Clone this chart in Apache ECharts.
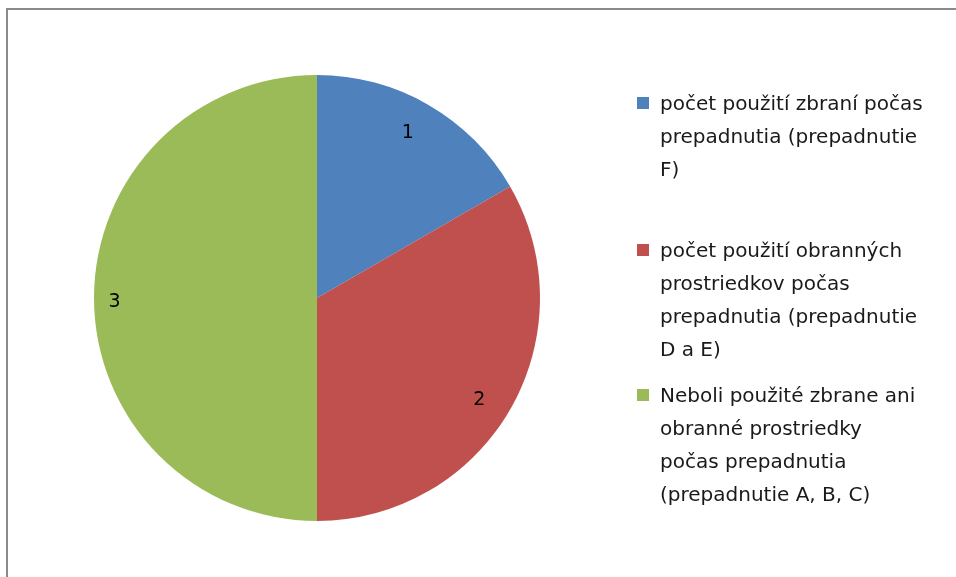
<!DOCTYPE html>
<html>
<head>
<meta charset="utf-8">
<script src="https://cdn.jsdelivr.net/npm/echarts@6/dist/echarts.min.js"></script>
<style>html,body{margin:0;padding:0;background:#fff}#c{width:956px;height:577px}</style>
</head>
<body>
<div id="c"></div>
<script>
const categories = [
  'počet použití zbraní počas\nprepadnutia (prepadnutie\nF)',
  'počet použití obranných\nprostriedkov počas\nprepadnutia (prepadnutie\nD a E)',
  'Neboli použité zbrane ani\nobranné prostriedky\npočas prepadnutia\n(prepadnutie A, B, C)'
];
const values = [1, 2, 3];
const colors = ['#4F81BD', '#C0504D', '#9BBB59'];
const legendTops = [88, 235, 380];

const FONT = '"DejaVu Sans"';
const LH = 33;
const data = categories.map((n, i) => ({ name: n, value: values[i], itemStyle: { color: colors[i] } }));

const legends = categories.map((n, i) => {
  const lines = n.split('\n').length;
  const h = lines * LH;
  return {
    data: [n],
    orient: 'vertical',
    left: 637,
    top: legendTops[i],
    padding: 0,
    itemWidth: 18,
    itemHeight: h,
    icon: 'path://M0,0L18,0M0,9H12V21H0ZM0,' + h + 'L18,' + h,
    itemStyle: { borderWidth: 0 },
    selectedMode: false,
    textStyle: { fontFamily: FONT, fontSize: 20, color: '#1a1a1a', lineHeight: LH }
  };
});

const chart = echarts.init(document.getElementById('c'), null, { renderer: 'canvas' });
chart.setOption({
  backgroundColor: '#fff',
  animation: false,
  graphic: [{
    type: 'polyline',
    shape: { points: [[7, 600], [7, 9], [980, 9]] },
    style: { fill: null, stroke: '#8a8a8a', lineWidth: 2 },
    silent: true
  }],
  legend: legends,
  series: [{
    type: 'pie',
    center: [317, 298],
    radius: 223,
    startAngle: 90,
    clockwise: true,
    data: data,
    label: { show: false },
    labelLine: { show: false },
    itemStyle: { borderWidth: 0 },
    emphasis: { disabled: true }
  }, {
    type: 'pie',
    center: [317, 298],
    radius: [162, 223],
    startAngle: 90,
    clockwise: true,
    silent: true,
    data: categories.map((n, i) => ({ name: n, value: values[i] })),
    itemStyle: { color: 'rgba(0,0,0,0)', borderWidth: 0 },
    label: {
      show: true,
      position: 'inside',
      formatter: '{c}',
      fontFamily: FONT,
      fontSize: 19,
      color: '#000',
      offset: [-7, 4]
    },
    labelLine: { show: false },
    emphasis: { disabled: true }
  }]
});
</script>
</body>
</html>
